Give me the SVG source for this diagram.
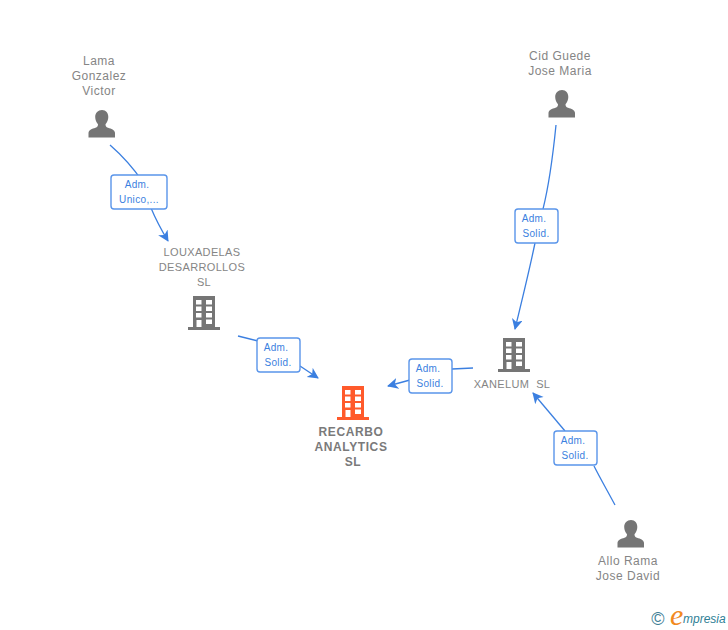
<svg xmlns="http://www.w3.org/2000/svg" width="728" height="630" viewBox="0 0 728 630">
<style>
text{font-family:"Liberation Sans",Arial,sans-serif}
.n{font-size:12px;fill:#858585;text-anchor:middle;letter-spacing:.5px}
.c{font-size:11px;fill:#858585;text-anchor:middle;letter-spacing:.35px}
.m{font-size:12px;fill:#7a7a7a;font-weight:bold;text-anchor:middle;letter-spacing:.6px}
.l{fill:none;stroke:#3b7fe0;stroke-width:1.3}
.b{fill:#fff;stroke:#5a95ea;stroke-width:1.4}
.t{font-size:10px;fill:#3b7fe0;text-anchor:middle;letter-spacing:.35px}
</style>
<defs>
<marker id="a" markerWidth="13" markerHeight="13" refX="10" refY="5.500" orient="auto" markerUnits="userSpaceOnUse"><path d="M0 0L11 5.500L0 11L3 5.500Z" fill="#3b7fe0"/></marker>
<symbol id="p" width="28" height="28" viewBox="0 0 28 28" overflow="visible"><path d="M14 0c4 0 6.300 3 6.300 7 0 3-1.200 5.300-2.800 7.200 0 1.800.7 2.800 2.500 3.500 3.500 1.200 6.500 2 7 5v4.800H0.500V22.700c.5-3 3.500-3.800 7-5 1.800-.7 2.500-1.700 2.500-3.500-1.600-1.900-2.800-4.200-2.800-7.200C7.200 3 10 0 14 0Z" fill="#757575"/></symbol>
<symbol id="g" width="32" height="34" viewBox="0 0 32 34" overflow="visible"><path fill-rule="evenodd" d="M5 0H27V31H32V34H0V31H5ZM8 4V8.500H13.500V4ZM18 4V8.500H24V4ZM8 10.500V15H13.500V10.500ZM18 10.500V15H24V10.500ZM8 17V21.500H13.500V17ZM18 17V21.500H24V17ZM8.500 24V31H13.500V24ZM18 23.500V28H24V23.500Z" fill="currentColor"/></symbol>
</defs>
<g id="connectors">
<path class="l" d="M110 145C125 158 136 172 143 182"/>
<path class="l" marker-end="url(#a)" d="M151 208C156 220 162 231 168 241"/>
<path class="l" d="M238 336L258 341"/>
<path class="l" marker-end="url(#a)" d="M300 366L318 378"/>
<path class="l" d="M473 368L452 369"/>
<path class="l" marker-end="url(#a)" d="M410 380L388 386"/>
<path class="l" d="M556 125C553 155 549 185 543 209"/>
<path class="l" marker-end="url(#a)" d="M535 243C529 272 522 300 515 329"/>
<path class="l" d="M615 505C607 490 600 478 594 466"/>
<path class="l" marker-end="url(#a)" d="M565 431L533 393"/>
</g>
<g id="edge-labels">
<g><rect class="b" x="111" y="175" width="56" height="34" rx="3"/><text class="t" x="137" y="188">Adm.</text><text class="t" x="139" y="203">Unico,...</text></g>
<g><rect class="b" x="257" y="338" width="43" height="34" rx="3"/><text class="t" x="276" y="351">Adm.</text><text class="t" x="278" y="366">Solid.</text></g>
<g><rect class="b" x="409" y="359" width="43" height="34" rx="3"/><text class="t" x="428" y="372">Adm.</text><text class="t" x="430" y="387">Solid.</text></g>
<g><rect class="b" x="515" y="209" width="43" height="34" rx="3"/><text class="t" x="534" y="222">Adm.</text><text class="t" x="536" y="237">Solid.</text></g>
<g><rect class="b" x="554" y="431" width="43" height="34" rx="3"/><text class="t" x="573" y="444">Adm.</text><text class="t" x="575" y="459">Solid.</text></g>
</g>
<g id="node-lama"><text class="n" x="99" y="65">Lama</text><text class="n" x="99" y="80">Gonzalez</text><text class="n" x="99" y="95">Victor</text><use href="#p" x="88" y="110"/></g>
<g id="node-cid"><text class="n" x="560" y="60">Cid Guede</text><text class="n" x="560" y="75">Jose Maria</text><use href="#p" x="548" y="90"/></g>
<g id="node-allo"><use href="#p" x="617" y="520"/><text class="n" x="628" y="565">Allo Rama</text><text class="n" x="628" y="580">Jose David</text></g>
<g id="node-louxadelas" color="#757575"><text class="c" x="202" y="256">LOUXADELAS</text><text class="c" x="202" y="271">DESARROLLOS</text><text class="c" x="204" y="286">SL</text><use href="#g" x="188" y="296"/></g>
<g id="node-xanelum" color="#757575"><use href="#g" x="498" y="338"/><text class="c" x="512" y="388">XANELUM&#160;&#160;SL</text></g>
<g id="node-recarbo" color="#ff5a2b"><use href="#g" x="337" y="386"/><text class="m" x="351" y="436">RECARBO</text><text class="m" x="351" y="451">ANALYTICS</text><text class="m" x="353" y="466">SL</text></g>
<g id="logo"><text x="658" y="625" font-size="18" fill="#3f7f96" text-anchor="middle">©</text><text x="670" y="625" font-size="30" fill="#f28a1e" font-style="italic" style="font-family:'Liberation Serif',serif">e</text><text x="683" y="623" font-size="12" fill="#2f7f96" font-style="italic">mpresia</text></g>
</svg>
